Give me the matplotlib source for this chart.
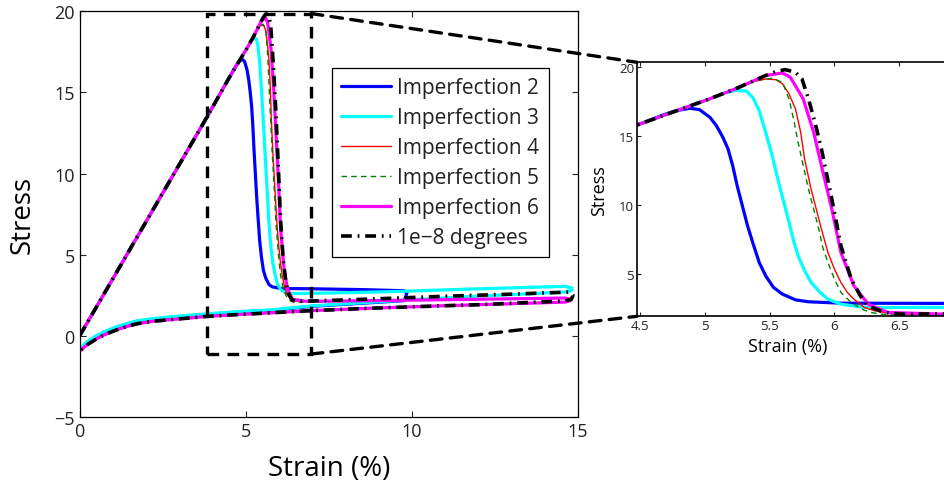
import numpy as np
import matplotlib
matplotlib.use('Agg')
import matplotlib.pyplot as plt
from matplotlib.patches import Rectangle, ConnectionPatch

plt.rcParams['font.family'] = ['Open Sans', 'DejaVu Sans']
plt.rcParams['text.color'] = '#222222'
plt.rcParams['xtick.color'] = '#222222'
plt.rcParams['ytick.color'] = '#222222'

# shared elastic loading branch (strain %, stress)
load_strain = [0, 3.84, 4.48]
load_stress = [0, 13.5, 15.82]
rise_strain = [4.886, 5.04, 5.24]
rise_stress = [17.2, 17.72, 18.45]

# lower unloading branch back to the origin (imperfection 4/5/6 and 1e-8)
lower_strain = [10.87, 9.0, 7.02, 5.75, 4.82, 3.84, 3.3, 2.74, 2.2, 1.74, 1.5, 1.23, 1.0,
                0.73, 0.5, 0.3, 0.15, 0]
lower_stress = [1.85, 1.72, 1.56, 1.42, 1.32, 1.2, 1.1, 1.0, 0.9, 0.75, 0.62, 0.45, 0.28,
                0.05, -0.2, -0.45, -0.68, -0.95]

# lower branch of imperfection 3 (imperfection 2 runs just under it)
lower3_strain = [9.77, 7.0, 5.75, 4.82, 3.84, 3.3, 2.74, 2.2, 1.74, 1.5, 1.23, 1.0, 0.73,
                 0.5, 0.3, 0.15, 0]
lower3_stress = [2.2, 1.85, 1.6, 1.5, 1.36, 1.27, 1.17, 1.06, 0.93, 0.8, 0.64, 0.47, 0.25,
                 0.0, -0.25, -0.5, -0.8]

imp2_strain = [4.68, 4.78, 4.886, 4.96, 5.04, 5.09, 5.14, 5.18, 5.216, 5.25, 5.29, 5.33, 5.37,
               5.42, 5.47, 5.53, 5.60, 5.70, 5.80, 6.05, 7.0, 8.5, 9.77, 9.85, 9.8]
imp2_stress = [16.55, 16.86, 17.03, 16.93, 16.38, 15.77, 14.93, 14.08, 12.87, 11.43, 9.98, 8.53,
               7.32, 5.87, 4.9, 4.06, 3.57, 3.16, 3.02, 2.92, 2.9, 2.85, 2.78, 2.62, 2.35]

imp3_strain = [5.14, 5.24, 5.32, 5.37, 5.42, 5.47, 5.52, 5.57, 5.61, 5.65, 5.685, 5.72, 5.77,
               5.82, 5.89, 5.95, 6.05, 6.21, 6.36, 8.0, 9.64, 12.0, 14.6, 14.82, 14.8, 14.6,
               12.0]
imp3_stress = [18.1, 18.33, 18.28, 17.83, 16.86, 15.29, 13.6, 11.67, 10.22, 8.77, 7.44, 6.35,
               5.27, 4.42, 3.7, 3.21, 2.85, 2.64, 2.6, 2.66, 2.74, 2.9, 3.05, 2.95, 2.8, 2.7,
               2.45]

imp4_strain = [5.37, 5.47, 5.55, 5.60, 5.65, 5.70, 5.74, 5.77, 5.82, 5.86, 5.90, 5.95, 6.0,
               6.05, 6.10, 6.15, 6.23, 6.31, 6.43, 6.56, 7.0, 10.0, 14.6, 14.8, 14.6]
imp4_stress = [18.95, 19.15, 19.1, 18.8, 18.07, 16.98, 15.29, 13.36, 11.18, 9.73, 8.28, 6.59,
               5.39, 4.42, 3.70, 3.21, 2.61, 2.37, 2.17, 2.13, 2.12, 2.2, 2.33, 2.2, 2.08]

imp5_strain = [5.40, 5.52, 5.60, 5.65, 5.685, 5.72, 5.76, 5.80, 5.84, 5.88, 5.91, 5.95, 6.0,
               6.05, 6.13, 6.21, 6.28, 6.36, 6.48, 7.0, 10.0, 14.6, 14.8, 14.6]
imp5_stress = [19.05, 19.2, 18.91, 17.7, 16.26, 14.57, 12.87, 11.18, 9.73, 8.28, 6.96, 5.87,
               4.66, 3.70, 2.97, 2.49, 2.25, 2.13, 2.06, 2.08, 2.2, 2.33, 2.2, 2.08]

imp6_strain = [5.47, 5.60, 5.66, 5.76, 5.84, 5.90, 5.98, 6.05, 6.15, 6.26, 6.41, 6.82, 8.0,
               10.0, 12.5, 14.6, 14.8, 14.75, 14.6, 12.0]
imp6_stress = [19.4, 19.59, 19.28, 17.7, 15.29, 12.87, 9.73, 6.59, 4.18, 2.85, 2.25, 2.13, 2.15,
               2.2, 2.27, 2.33, 2.25, 2.15, 2.08, 1.92]

ref_strain = [5.47, 5.55, 5.62, 5.70, 5.75, 5.80, 5.85, 5.90, 5.98, 6.05, 6.13, 6.20, 6.26,
              6.38, 6.51, 7.0, 8.5, 10.87, 13.0, 14.75, 14.85, 14.8, 14.6, 12.0]
ref_stress = [19.4, 19.69, 19.83, 19.64, 19.15, 17.7, 16.01, 14.08, 10.46, 7.08, 4.66, 3.45,
              2.73, 2.25, 2.13, 2.15, 2.25, 2.43, 2.57, 2.7, 2.5, 2.25, 2.15, 1.92]

labels = ['Imperfection 2', 'Imperfection 3', 'Imperfection 4', 'Imperfection 5',
          'Imperfection 6', '1e\u22128 degrees']


def path(xs, ys):
    return np.concatenate([np.array(x, float) for x in xs]), \
        np.concatenate([np.array(y, float) for y in ys])


curves = [
    path([load_strain, imp2_strain, lower3_strain], [load_stress, imp2_stress, np.array(lower3_stress) - 0.03]),
    path([load_strain, rise_strain[:2], imp3_strain, lower3_strain],
         [load_stress, rise_stress[:2], imp3_stress, lower3_stress]),
    path([load_strain, rise_strain, imp4_strain, lower_strain],
         [load_stress, rise_stress, imp4_stress, lower_stress]),
    path([load_strain, rise_strain, imp5_strain, lower_strain],
         [load_stress, rise_stress, imp5_stress, lower_stress]),
    path([load_strain, rise_strain, imp6_strain, lower_strain],
         [load_stress, rise_stress, imp6_stress, lower_stress]),
    path([load_strain, rise_strain, ref_strain, lower_strain],
         [load_stress, rise_stress, ref_stress, lower_stress]),
]
styles = [
    dict(color=(0, 0, 1), lw=2.3, ls='-'),
    dict(color=(0, 1, 1), lw=2.3, ls='-'),
    dict(color=(1, 0, 0), lw=1.0, ls='-'),
    dict(color=(0, 0.5, 0), lw=1.0, ls=(0, (4, 3))),
    dict(color=(1, 0, 1), lw=2.3, ls='-'),
    dict(color='k', lw=2.6, ls=(0, (3, 1.6, 0.5, 1.6))),
]

fig = plt.figure(figsize=(9.44, 4.85), dpi=100)
ax = fig.add_axes([0.0843, 0.138, 0.528, 0.837])
ins = fig.add_axes([0.6748, 0.3458, 0.3465, 0.5237])

for (x, y), st, lab in zip(curves, styles, labels):
    ax.plot(x, y, label=lab, solid_capstyle='round', solid_joinstyle='round', **st)
    ins.plot(x, y, solid_capstyle='round', solid_joinstyle='round', **st)

ax.set_xlim(0, 15)
ax.set_ylim(-5, 20)
ax.set_xticks([0, 5, 10, 15])
ax.set_yticks([-5, 0, 5, 10, 15, 20])
ax.tick_params(direction='in', top=True, right=True, labelsize=13, length=4, width=0.8)
ax.set_xlabel('Strain (%)', fontsize=20, labelpad=10)
ax.set_ylabel('Stress', fontsize=20, labelpad=13)
for s in ax.spines.values():
    s.set_linewidth(0.9)

leg = ax.legend(loc='upper left', bbox_to_anchor=(0.506, 0.86), fontsize=15,
                handlelength=2.4, labelspacing=0.43, borderpad=0.45, handletextpad=0.3,
                borderaxespad=0, fancybox=False, framealpha=1, edgecolor='k')
leg.get_frame().set_linewidth(0.9)

ins.set_xlim(4.478, 7.0)
ins.set_ylim(1.97, 20.36)
ins.set_xticks([4.5, 5, 5.5, 6, 6.5, 7])
ins.set_yticks([5, 10, 15, 20])
ins.set_xticklabels(['4.5', '5', '5.5', '6', '6.5', ''])
ins.tick_params(direction='in', top=True, right=True, labelsize=9.5, length=3, width=0.8, pad=2)
ins.set_xlabel('Strain (%)', fontsize=13)
ins.set_ylabel('Stress', fontsize=13)
ins.xaxis.set_label_coords(0.46, -0.082)
ins.yaxis.set_label_coords(-0.088, 0.5)
for s in ins.spines.values():
    s.set_linewidth(1.2)

# zoom box and connectors
dash = (0, (3.5, 2.5))
ax.add_patch(Rectangle((3.83, -1.12), 6.97 - 3.83, 19.85 + 1.12, fill=False, ec='k',
                       lw=2.4, ls=dash, clip_on=False, zorder=5))
for yA, yB in [(19.85, 1), (-1.12, 0)]:
    con = ConnectionPatch(xyA=(6.97, yA), coordsA=ax.transData, xyB=(0, yB),
                          coordsB=ins.transAxes, color='k', lw=2.4, ls=dash)
    fig.add_artist(con)

fig.savefig('out.png', dpi=100)
